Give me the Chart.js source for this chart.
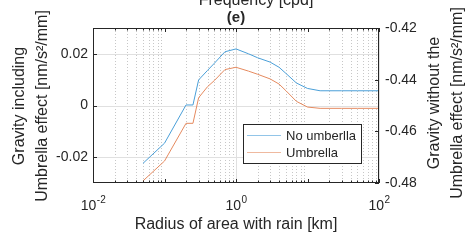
<!DOCTYPE html>
<html>
<head>
<meta charset="utf-8">
<script src="https://cdn.jsdelivr.net/npm/chart.js@4/dist/chart.umd.min.js"></script>
<style>
  html, body { margin: 0; padding: 0; background: #fff; }
  #c { display: block; }
</style>
</head>
<body>
<canvas id="c" width="466" height="240"></canvas>
<script>
// radius of area with rain [km]
const radius = [0.05, 0.1, 0.2, 0.25, 0.3, 0.4, 0.5, 0.7, 1, 1.5, 2, 3, 4, 5, 7, 10, 15, 20, 30, 50, 100];
// right axis: gravity without the umbrella effect
const noUmbrella = [-0.4724, -0.4646, -0.4498, -0.4498, -0.4401, -0.4364, -0.4336, -0.4292, -0.4281, -0.4300, -0.4315,
  -0.4332, -0.4352, -0.4376, -0.4413, -0.4434, -0.4443, -0.4443, -0.4443, -0.4443, -0.4443];
// left axis: gravity including the umbrella effect
const umbrella = [-0.0292, -0.0215, -0.0069, -0.0069, 0.0030, 0.0073, 0.0097, 0.0139, 0.0148, 0.0133, 0.0121,
  0.0103, 0.0083, 0.0057, 0.0016, -0.0006, -0.0011, -0.0011, -0.0011, -0.0011, -0.0011];

const leftTicks = [-0.02, 0, 0.02];
const rightTicks = [-0.48, -0.46, -0.44, -0.42];
const xTicks = [0.01, 1, 100];
const xTickExps = ['-2', '0', '2'];

const FONT = "'Liberation Sans', Arial, sans-serif";
const INK = '#262626';
const BLUE = '#4a9fd8';
const ORANGE = '#e58a5f';

const toPoints = (ys) => radius.map((r, i) => ({ x: r, y: ys[i] }));

function minorValues() {
  const out = [];
  for (let e = -2; e < 2; e++) {
    for (let k = 1; k <= 9; k++) out.push({ v: k * Math.pow(10, e), major: k === 1 });
  }
  out.push({ v: 100, major: true });
  return out;
}

const framePlugin = {
  id: 'frame',
  beforeDatasetsDraw(chart) {
    const { ctx, chartArea: a, scales } = chart;
    const x = scales.x, yL = scales.yL;
    ctx.save();
    ctx.lineWidth = 1;
    // minor vertical dotted grid
    ctx.strokeStyle = 'rgba(0,0,0,0.22)';
    ctx.setLineDash([1, 2]);
    minorValues().forEach(({ v, major }) => {
      if (major) return;
      const px = Math.round(x.getPixelForValue(v)) + 0.5;
      ctx.beginPath();
      ctx.moveTo(px, a.top);
      ctx.lineTo(px, a.bottom);
      ctx.stroke();
    });
    // major grid
    ctx.setLineDash([]);
    ctx.strokeStyle = '#e0e0e0';
    xTicks.forEach((v) => {
      const px = Math.round(x.getPixelForValue(v)) + 0.5;
      ctx.beginPath();
      ctx.moveTo(px, a.top);
      ctx.lineTo(px, a.bottom);
      ctx.stroke();
    });
    leftTicks.forEach((v) => {
      const py = Math.round(yL.getPixelForValue(v)) + 0.5;
      ctx.beginPath();
      ctx.moveTo(a.left, py);
      ctx.lineTo(a.right, py);
      ctx.stroke();
    });
    ctx.restore();
  },
  afterDatasetsDraw(chart) {
    const { ctx, chartArea: a, scales } = chart;
    const x = scales.x, yL = scales.yL, yR = scales.yR;
    ctx.save();
    ctx.strokeStyle = INK;
    ctx.lineWidth = 1;
    ctx.strokeRect(a.left + 0.5, a.top + 0.5, a.right - a.left - 1, a.bottom - a.top - 1);

    // tick marks
    ctx.beginPath();
    minorValues().forEach(({ v, major }) => {
      const px = Math.round(x.getPixelForValue(v)) + 0.5;
      const len = major ? 4 : 2.5;
      ctx.moveTo(px, a.bottom);
      ctx.lineTo(px, a.bottom - len);
      ctx.moveTo(px, a.top);
      ctx.lineTo(px, a.top + len);
    });
    leftTicks.forEach((v) => {
      const py = Math.round(yL.getPixelForValue(v)) + 0.5;
      ctx.moveTo(a.left, py);
      ctx.lineTo(a.left + 4, py);
    });
    rightTicks.forEach((v) => {
      const py = Math.round(yR.getPixelForValue(v)) + 0.5;
      ctx.moveTo(a.right, py);
      ctx.lineTo(a.right - 4, py);
    });
    ctx.stroke();

    // x tick labels 10^n
    ctx.fillStyle = INK;
    ctx.textBaseline = 'alphabetic';
    xTicks.forEach((v, i) => {
      const px = x.getPixelForValue(v);
      ctx.font = '14px ' + FONT;
      const wBase = ctx.measureText('10').width;
      ctx.font = '10px ' + FONT;
      const wExp = ctx.measureText(xTickExps[i]).width;
      const start = px - (wBase + wExp) / 2;
      ctx.font = '14px ' + FONT;
      ctx.textAlign = 'left';
      ctx.fillText('10', start, 210);
      ctx.font = '10px ' + FONT;
      ctx.fillText(xTickExps[i], start + wBase + 0.5, 203);
    });

    // axis labels and titles
    const cx = (a.left + a.right) / 2;
    ctx.textAlign = 'center';
    ctx.font = '16px ' + FONT;
    ctx.fillText('Radius of area with rain [km]', cx, 229);
    ctx.fillText('Frequency [cpd]', 256, 5);
    ctx.font = 'bold 15px ' + FONT;
    ctx.fillText('(e)', cx, 22);

    ctx.font = '16px ' + FONT;
    const vLabel = (lines, xs, cy) => {
      lines.forEach((t, i) => {
        ctx.save();
        ctx.translate(xs[i], cy);
        ctx.rotate(-Math.PI / 2);
        ctx.fillText(t, 0, 0);
        ctx.restore();
      });
    };
    vLabel(['Gravity including', 'Umbrella effect [nm/s\u00b2/mm]'], [24, 47], 106);
    vLabel(['Gravity without the', 'Umbrella effect [nm/s\u00b2/mm]'], [439, 462], 103);

    // legend
    const lx = 243.5, ly = 124.5, lw = 118, lh = 39;
    ctx.fillStyle = '#fff';
    ctx.fillRect(lx, ly, lw, lh);
    ctx.strokeStyle = INK;
    ctx.strokeRect(lx, ly, lw, lh);
    ctx.font = '13px ' + FONT;
    ctx.textAlign = 'left';
    ctx.textBaseline = 'middle';
    const rows = [135.5, 152.5];
    chart.data.datasets.forEach((ds, i) => {
      ctx.strokeStyle = ds.borderColor;
      ctx.globalAlpha = 0.6;
      ctx.beginPath();
      ctx.moveTo(247, rows[i]);
      ctx.lineTo(281, rows[i]);
      ctx.stroke();
      ctx.globalAlpha = 1;
      ctx.fillStyle = INK;
      ctx.fillText(ds.label, 286, rows[i] + 0.5);
    });
    ctx.restore();
  }
};

new Chart(document.getElementById('c'), {
  type: 'line',
  data: {
    datasets: [
      { label: 'No umberlla', data: toPoints(noUmbrella), yAxisID: 'yR', borderColor: BLUE, borderWidth: 1, pointRadius: 0, tension: 0 },
      { label: 'Umbrella', data: toPoints(umbrella), yAxisID: 'yL', borderColor: ORANGE, borderWidth: 1, pointRadius: 0, tension: 0 },
    ],
  },
  options: {
    responsive: false,
    animation: false,
    layout: { padding: { top: 28, left: 0, right: 0, bottom: 0 } },
    plugins: { legend: { display: false }, tooltip: { enabled: false } },
    scales: {
      x: {
        type: 'logarithmic',
        min: 0.01,
        max: 100,
        grid: { display: false },
        border: { display: false },
        ticks: { display: false },
        afterFit: (s) => { s.height = 57; },
      },
      yL: {
        position: 'left',
        min: -0.03,
        max: 0.03,
        grid: { display: false, drawTicks: false },
        border: { display: false },
        afterBuildTicks: (s) => { s.ticks = leftTicks.map((v) => ({ value: v })); },
        ticks: {
          padding: 5,
          color: INK,
          font: { family: FONT, size: 14 },
          callback: (v) => (v === 0 ? '0' : v.toFixed(2)),
        },
        afterFit: (s) => { s.width = 93; },
      },
      yR: {
        position: 'right',
        min: -0.48,
        max: -0.42,
        grid: { display: false, drawTicks: false },
        border: { display: false },
        afterBuildTicks: (s) => { s.ticks = rightTicks.map((v) => ({ value: v })); },
        ticks: {
          padding: 6,
          color: INK,
          font: { family: FONT, size: 14 },
          callback: (v) => v.toFixed(2),
        },
        afterFit: (s) => { s.width = 87; },
      },
    },
  },
  plugins: [framePlugin],
});
</script>
</body>
</html>
